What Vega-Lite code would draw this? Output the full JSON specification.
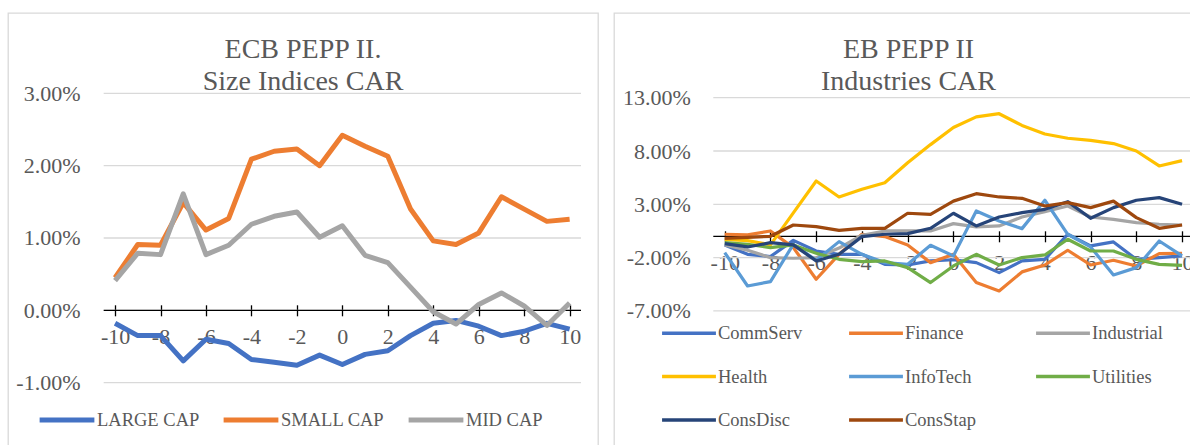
{
  "$schema": "https://vega.github.io/schema/vega-lite/v6.json",
  "padding": {"left": 7, "top": 12, "right": 0, "bottom": 0},
  "spacing": 14,
  "background": "white",
  "resolve": {"scale": {"color": "independent"}},
  "config": {
    "font": "Liberation Serif",
    "view": {"stroke": "#d9d9d9", "strokeWidth": 1.3},
    "axis": {"labelFont": "Liberation Serif", "labelColor": "#595959", "labelFontSize": 22, "tickColor": "black", "tickWidth": 1.3, "title": null, "grid": false, "labelFlush": false, "labelOverlap": false},
    "legend": {"labelFont": "Liberation Serif", "labelColor": "#595959", "labelFontSize": 18.5, "title": null},
    "title": {"font": "Liberation Serif", "fontSize": 28, "fontWeight": "normal", "color": "#595959", "anchor": "middle", "frame": "group", "lineHeight": 32}
  },
  "datasets": {
    "left": [
      {"series": "LARGE CAP", "day": -10, "car": -0.18}, {"series": "LARGE CAP", "day": -9, "car": -0.35}, {"series": "LARGE CAP", "day": -8, "car": -0.35}, {"series": "LARGE CAP", "day": -7, "car": -0.70}, {"series": "LARGE CAP", "day": -6, "car": -0.40}, {"series": "LARGE CAP", "day": -5, "car": -0.46}, {"series": "LARGE CAP", "day": -4, "car": -0.68}, {"series": "LARGE CAP", "day": -3, "car": -0.72}, {"series": "LARGE CAP", "day": -2, "car": -0.76}, {"series": "LARGE CAP", "day": -1, "car": -0.62}, {"series": "LARGE CAP", "day": 0, "car": -0.75}, {"series": "LARGE CAP", "day": 1, "car": -0.61}, {"series": "LARGE CAP", "day": 2, "car": -0.56}, {"series": "LARGE CAP", "day": 3, "car": -0.35}, {"series": "LARGE CAP", "day": 4, "car": -0.18}, {"series": "LARGE CAP", "day": 5, "car": -0.14}, {"series": "LARGE CAP", "day": 6, "car": -0.22}, {"series": "LARGE CAP", "day": 7, "car": -0.35}, {"series": "LARGE CAP", "day": 8, "car": -0.29}, {"series": "LARGE CAP", "day": 9, "car": -0.18}, {"series": "LARGE CAP", "day": 10, "car": -0.26},
      {"series": "SMALL CAP", "day": -10, "car": 0.45}, {"series": "SMALL CAP", "day": -9, "car": 0.91}, {"series": "SMALL CAP", "day": -8, "car": 0.90}, {"series": "SMALL CAP", "day": -7, "car": 1.49}, {"series": "SMALL CAP", "day": -6, "car": 1.11}, {"series": "SMALL CAP", "day": -5, "car": 1.27}, {"series": "SMALL CAP", "day": -4, "car": 2.09}, {"series": "SMALL CAP", "day": -3, "car": 2.20}, {"series": "SMALL CAP", "day": -2, "car": 2.23}, {"series": "SMALL CAP", "day": -1, "car": 2.00}, {"series": "SMALL CAP", "day": 0, "car": 2.42}, {"series": "SMALL CAP", "day": 1, "car": 2.27}, {"series": "SMALL CAP", "day": 2, "car": 2.13}, {"series": "SMALL CAP", "day": 3, "car": 1.40}, {"series": "SMALL CAP", "day": 4, "car": 0.96}, {"series": "SMALL CAP", "day": 5, "car": 0.91}, {"series": "SMALL CAP", "day": 6, "car": 1.07}, {"series": "SMALL CAP", "day": 7, "car": 1.57}, {"series": "SMALL CAP", "day": 8, "car": 1.40}, {"series": "SMALL CAP", "day": 9, "car": 1.23}, {"series": "SMALL CAP", "day": 10, "car": 1.26},
      {"series": "MID CAP", "day": -10, "car": 0.41}, {"series": "MID CAP", "day": -9, "car": 0.79}, {"series": "MID CAP", "day": -8, "car": 0.77}, {"series": "MID CAP", "day": -7, "car": 1.61}, {"series": "MID CAP", "day": -6, "car": 0.77}, {"series": "MID CAP", "day": -5, "car": 0.90}, {"series": "MID CAP", "day": -4, "car": 1.19}, {"series": "MID CAP", "day": -3, "car": 1.30}, {"series": "MID CAP", "day": -2, "car": 1.36}, {"series": "MID CAP", "day": -1, "car": 1.01}, {"series": "MID CAP", "day": 0, "car": 1.17}, {"series": "MID CAP", "day": 1, "car": 0.76}, {"series": "MID CAP", "day": 2, "car": 0.66}, {"series": "MID CAP", "day": 3, "car": 0.32}, {"series": "MID CAP", "day": 4, "car": -0.02}, {"series": "MID CAP", "day": 5, "car": -0.19}, {"series": "MID CAP", "day": 6, "car": 0.08}, {"series": "MID CAP", "day": 7, "car": 0.24}, {"series": "MID CAP", "day": 8, "car": 0.06}, {"series": "MID CAP", "day": 9, "car": -0.21}, {"series": "MID CAP", "day": 10, "car": 0.10}
    ],
    "right": [
      {"series": "CommServ", "day": -10, "car": -0.81}, {"series": "CommServ", "day": -9, "car": -1.69}, {"series": "CommServ", "day": -8, "car": -1.9}, {"series": "CommServ", "day": -7, "car": -0.38}, {"series": "CommServ", "day": -6, "car": -1.38}, {"series": "CommServ", "day": -5, "car": -1.69}, {"series": "CommServ", "day": -4, "car": -1.69}, {"series": "CommServ", "day": -3, "car": -2.63}, {"series": "CommServ", "day": -2, "car": -2.69}, {"series": "CommServ", "day": -1, "car": -2.31}, {"series": "CommServ", "day": 0, "car": -2.2}, {"series": "CommServ", "day": 1, "car": -2.47}, {"series": "CommServ", "day": 2, "car": -3.41}, {"series": "CommServ", "day": 3, "car": -2.31}, {"series": "CommServ", "day": 4, "car": -2.16}, {"series": "CommServ", "day": 5, "car": 0.19}, {"series": "CommServ", "day": 6, "car": -0.9}, {"series": "CommServ", "day": 7, "car": -0.53}, {"series": "CommServ", "day": 8, "car": -2.16}, {"series": "CommServ", "day": 9, "car": -2.0}, {"series": "CommServ", "day": 10, "car": -1.84},
      {"series": "Finance", "day": -10, "car": 0.19}, {"series": "Finance", "day": -9, "car": 0.13}, {"series": "Finance", "day": -8, "car": 0.5}, {"series": "Finance", "day": -7, "car": -1.06}, {"series": "Finance", "day": -6, "car": -4.03}, {"series": "Finance", "day": -5, "car": -1.69}, {"series": "Finance", "day": -4, "car": 0.19}, {"series": "Finance", "day": -3, "car": -0.03}, {"series": "Finance", "day": -2, "car": -0.81}, {"series": "Finance", "day": -1, "car": -2.47}, {"series": "Finance", "day": 0, "car": -1.69}, {"series": "Finance", "day": 1, "car": -4.34}, {"series": "Finance", "day": 2, "car": -5.13}, {"series": "Finance", "day": 3, "car": -3.34}, {"series": "Finance", "day": 4, "car": -2.69}, {"series": "Finance", "day": 5, "car": -1.31}, {"series": "Finance", "day": 6, "car": -2.69}, {"series": "Finance", "day": 7, "car": -2.25}, {"series": "Finance", "day": 8, "car": -2.78}, {"series": "Finance", "day": 9, "car": -1.63}, {"series": "Finance", "day": 10, "car": -1.59},
      {"series": "Industrial", "day": -10, "car": -0.81}, {"series": "Industrial", "day": -9, "car": -1.31}, {"series": "Industrial", "day": -8, "car": -2.0}, {"series": "Industrial", "day": -7, "car": -2.06}, {"series": "Industrial", "day": -6, "car": -2.0}, {"series": "Industrial", "day": -5, "car": -1.1}, {"series": "Industrial", "day": -4, "car": 0.1}, {"series": "Industrial", "day": -3, "car": 0.5}, {"series": "Industrial", "day": -2, "car": 0.5}, {"series": "Industrial", "day": -1, "car": 0.5}, {"series": "Industrial", "day": 0, "car": 1.19}, {"series": "Industrial", "day": 1, "car": 0.88}, {"series": "Industrial", "day": 2, "car": 0.97}, {"series": "Industrial", "day": 3, "car": 1.81}, {"series": "Industrial", "day": 4, "car": 2.31}, {"series": "Industrial", "day": 5, "car": 2.84}, {"series": "Industrial", "day": 6, "car": 1.81}, {"series": "Industrial", "day": 7, "car": 1.59}, {"series": "Industrial", "day": 8, "car": 1.28}, {"series": "Industrial", "day": 9, "car": 1.13}, {"series": "Industrial", "day": 10, "car": 1.06},
      {"series": "Health", "day": -10, "car": -0.3}, {"series": "Health", "day": -9, "car": -0.4}, {"series": "Health", "day": -8, "car": -0.8}, {"series": "Health", "day": -7, "car": 2.2}, {"series": "Health", "day": -6, "car": 5.19}, {"series": "Health", "day": -5, "car": 3.69}, {"series": "Health", "day": -4, "car": 4.41}, {"series": "Health", "day": -3, "car": 5.03}, {"series": "Health", "day": -2, "car": 6.9}, {"series": "Health", "day": -1, "car": 8.6}, {"series": "Health", "day": 0, "car": 10.2}, {"series": "Health", "day": 1, "car": 11.2}, {"series": "Health", "day": 2, "car": 11.5}, {"series": "Health", "day": 3, "car": 10.4}, {"series": "Health", "day": 4, "car": 9.6}, {"series": "Health", "day": 5, "car": 9.2}, {"series": "Health", "day": 6, "car": 9.0}, {"series": "Health", "day": 7, "car": 8.7}, {"series": "Health", "day": 8, "car": 8.0}, {"series": "Health", "day": 9, "car": 6.6}, {"series": "Health", "day": 10, "car": 7.1},
      {"series": "InfoTech", "day": -10, "car": -1.53}, {"series": "InfoTech", "day": -9, "car": -4.66}, {"series": "InfoTech", "day": -8, "car": -4.25}, {"series": "InfoTech", "day": -7, "car": -0.75}, {"series": "InfoTech", "day": -6, "car": -2.25}, {"series": "InfoTech", "day": -5, "car": -0.5}, {"series": "InfoTech", "day": -4, "car": -1.69}, {"series": "InfoTech", "day": -3, "car": -2.47}, {"series": "InfoTech", "day": -2, "car": -2.63}, {"series": "InfoTech", "day": -1, "car": -0.84}, {"series": "InfoTech", "day": 0, "car": -1.84}, {"series": "InfoTech", "day": 1, "car": 2.38}, {"series": "InfoTech", "day": 2, "car": 1.44}, {"series": "InfoTech", "day": 3, "car": 0.72}, {"series": "InfoTech", "day": 4, "car": 3.38}, {"series": "InfoTech", "day": 5, "car": 0.19}, {"series": "InfoTech", "day": 6, "car": -1.0}, {"series": "InfoTech", "day": 7, "car": -3.63}, {"series": "InfoTech", "day": 8, "car": -2.94}, {"series": "InfoTech", "day": 9, "car": -0.44}, {"series": "InfoTech", "day": 10, "car": -1.84},
      {"series": "Utilities", "day": -10, "car": -0.59}, {"series": "Utilities", "day": -9, "car": -0.75}, {"series": "Utilities", "day": -8, "car": -1.06}, {"series": "Utilities", "day": -7, "car": -0.81}, {"series": "Utilities", "day": -6, "car": -1.59}, {"series": "Utilities", "day": -5, "car": -2.16}, {"series": "Utilities", "day": -4, "car": -2.38}, {"series": "Utilities", "day": -3, "car": -2.31}, {"series": "Utilities", "day": -2, "car": -2.94}, {"series": "Utilities", "day": -1, "car": -4.34}, {"series": "Utilities", "day": 0, "car": -2.78}, {"series": "Utilities", "day": 1, "car": -1.69}, {"series": "Utilities", "day": 2, "car": -2.69}, {"series": "Utilities", "day": 3, "car": -2.0}, {"series": "Utilities", "day": 4, "car": -1.75}, {"series": "Utilities", "day": 5, "car": -0.28}, {"series": "Utilities", "day": 6, "car": -1.38}, {"series": "Utilities", "day": 7, "car": -1.38}, {"series": "Utilities", "day": 8, "car": -2.16}, {"series": "Utilities", "day": 9, "car": -2.63}, {"series": "Utilities", "day": 10, "car": -2.72},
      {"series": "ConsDisc", "day": -10, "car": -0.69}, {"series": "ConsDisc", "day": -9, "car": -1.0}, {"series": "ConsDisc", "day": -8, "car": -0.6}, {"series": "ConsDisc", "day": -7, "car": -0.81}, {"series": "ConsDisc", "day": -6, "car": -2.31}, {"series": "ConsDisc", "day": -5, "car": -1.69}, {"series": "ConsDisc", "day": -4, "car": -0.03}, {"series": "ConsDisc", "day": -3, "car": 0.19}, {"series": "ConsDisc", "day": -2, "car": 0.25}, {"series": "ConsDisc", "day": -1, "car": 0.75}, {"series": "ConsDisc", "day": 0, "car": 2.16}, {"series": "ConsDisc", "day": 1, "car": 0.97}, {"series": "ConsDisc", "day": 2, "car": 1.81}, {"series": "ConsDisc", "day": 3, "car": 2.22}, {"series": "ConsDisc", "day": 4, "car": 2.53}, {"series": "ConsDisc", "day": 5, "car": 3.25}, {"series": "ConsDisc", "day": 6, "car": 1.69}, {"series": "ConsDisc", "day": 7, "car": 2.69}, {"series": "ConsDisc", "day": 8, "car": 3.38}, {"series": "ConsDisc", "day": 9, "car": 3.63}, {"series": "ConsDisc", "day": 10, "car": 3.0},
      {"series": "ConsStap", "day": -10, "car": -0.2}, {"series": "ConsStap", "day": -9, "car": -0.1}, {"series": "ConsStap", "day": -8, "car": 0.0}, {"series": "ConsStap", "day": -7, "car": 1.06}, {"series": "ConsStap", "day": -6, "car": 0.9}, {"series": "ConsStap", "day": -5, "car": 0.56}, {"series": "ConsStap", "day": -4, "car": 0.75}, {"series": "ConsStap", "day": -3, "car": 0.75}, {"series": "ConsStap", "day": -2, "car": 2.16}, {"series": "ConsStap", "day": -1, "car": 2.06}, {"series": "ConsStap", "day": 0, "car": 3.3}, {"series": "ConsStap", "day": 1, "car": 4.0}, {"series": "ConsStap", "day": 2, "car": 3.69}, {"series": "ConsStap", "day": 3, "car": 3.56}, {"series": "ConsStap", "day": 4, "car": 2.84}, {"series": "ConsStap", "day": 5, "car": 3.16}, {"series": "ConsStap", "day": 6, "car": 2.69}, {"series": "ConsStap", "day": 7, "car": 3.3}, {"series": "ConsStap", "day": 8, "car": 1.75}, {"series": "ConsStap", "day": 9, "car": 0.75}, {"series": "ConsStap", "day": 10, "car": 1.06}
    ]
  },
  "hconcat": [
    {
      "width": 590,
      "height": 433,
      "title": {"text": ["ECB PEPP II.", "Size Indices CAR"], "offset": -83},
      "layer": [
        {
          "data": {"values": [{"g": -1}, {"g": 0}, {"g": 1}, {"g": 2}, {"g": 3}]},
          "mark": {"type": "rule", "color": "#d9d9d9", "strokeWidth": 1.3},
          "encoding": {
            "y": {"field": "g", "type": "quantitative", "scale": {"domain": [-1.877, 4.112], "nice": false, "zero": false},
                  "axis": {"orient": "left", "offset": -95.7, "values": [-1, 0, 1, 2, 3], "labelExpr": "replace(format(datum.value, '.2f'), '−', '-') + '%'", "ticks": false, "domain": false, "labelPadding": 23.7, "title": null}},
            "x": {"datum": -10.5, "type": "quantitative", "scale": {"domain": [-14.71, 11.248], "nice": false, "zero": false}},
            "x2": {"datum": 10.5}
          }
        },
        {
          "data": {"values": [{}]},
          "mark": {"type": "rule", "color": "black", "strokeWidth": 1.3},
          "encoding": {
            "y": {"datum": 0, "type": "quantitative"},
            "x": {"datum": -10.5, "type": "quantitative"},
            "x2": {"datum": 10.5}
          }
        },
        {
          "data": {"name": "left"},
          "mark": {"type": "line", "strokeWidth": 5, "strokeJoin": "round"},
          "encoding": {
            "x": {"field": "day", "type": "quantitative",
                  "axis": {"orient": "bottom", "offset": -141.2, "values": [-10, -9, -8, -7, -6, -5, -4, -3, -2, -1, 0, 1, 2, 3, 4, 5, 6, 7, 8, 9, 10, 10.5], "labelExpr": "datum.value % 2 == 0 ? '' + datum.value : ''", "domain": false, "ticks": true, "tickSize": 11, "labelPadding": 10.5, "title": null}},
            "y": {"field": "car", "type": "quantitative"},
            "color": {"field": "series", "type": "nominal",
                      "scale": {"domain": ["LARGE CAP", "SMALL CAP", "MID CAP"], "range": ["#4472C4", "#ED7D31", "#A5A5A5"]},
                      "legend": {"orient": "none", "legendX": 29, "legendY": 377, "direction": "horizontal", "columns": 3, "symbolType": "stroke", "symbolSize": 3000, "symbolStrokeWidth": 5, "labelOffset": 0, "columnPadding": 13}}
          }
        }
      ]
    },
    {
      "width": 579,
      "height": 433,
      "title": {"text": ["EB PEPP II", "Industries CAR"], "offset": -83, "dx": 5},
      "layer": [
        {
          "data": {"values": [{"g": -7}, {"g": -2}, {"g": 3}, {"g": 8}, {"g": 13}]},
          "mark": {"type": "rule", "color": "#d9d9d9", "strokeWidth": 1.3},
          "encoding": {
            "y": {"field": "g", "type": "quantitative", "scale": {"domain": [-19.672, 20.947], "nice": false, "zero": false},
                  "axis": {"orient": "left", "offset": -99.3, "values": [-7, -2, 3, 8, 13], "labelExpr": "replace(format(datum.value, '.2f'), '−', '-') + '%'", "ticks": false, "domain": false, "labelPadding": 23, "title": null}},
            "x": {"datum": -10.5, "type": "quantitative", "scale": {"domain": [-14.842, 10.478], "nice": false, "zero": false}},
            "x2": {"datum": 10.478}
          }
        },
        {
          "data": {"values": [{}]},
          "mark": {"type": "rule", "color": "black", "strokeWidth": 1.3},
          "encoding": {
            "y": {"datum": 0, "type": "quantitative"},
            "x": {"datum": -10.5, "type": "quantitative"},
            "x2": {"datum": 10.478}
          }
        },
        {
          "data": {"name": "right"},
          "mark": {"type": "line", "strokeWidth": 3.2, "strokeJoin": "round"},
          "encoding": {
            "x": {"field": "day", "type": "quantitative",
                  "axis": {"orient": "bottom", "offset": -215.2, "values": [-10, -9, -8, -7, -6, -5, -4, -3, -2, -1, 0, 1, 2, 3, 4, 5, 6, 7, 8, 9, 10], "labelExpr": "datum.value % 2 == 0 ? '' + datum.value : ''", "domain": false, "ticks": true, "tickSize": 11, "labelPadding": 10.5, "title": null}},
            "y": {"field": "car", "type": "quantitative"},
            "color": {"field": "series", "type": "nominal",
                      "scale": {"domain": ["CommServ", "Finance", "Industrial", "Health", "InfoTech", "Utilities", "ConsDisc", "ConsStap"], "range": ["#4472C4", "#ED7D31", "#A5A5A5", "#FFC000", "#5B9BD5", "#70AD47", "#264478", "#9E480E"]},
                      "legend": {"orient": "none", "legendX": 46, "legendY": 291, "direction": "horizontal", "columns": 3, "gridAlign": "all", "symbolType": "stroke", "symbolSize": 2900, "symbolStrokeWidth": 3.5, "labelOffset": 0, "columnPadding": 39, "rowPadding": 4.5}}
          }
        }
      ]
    }
  ]
}
